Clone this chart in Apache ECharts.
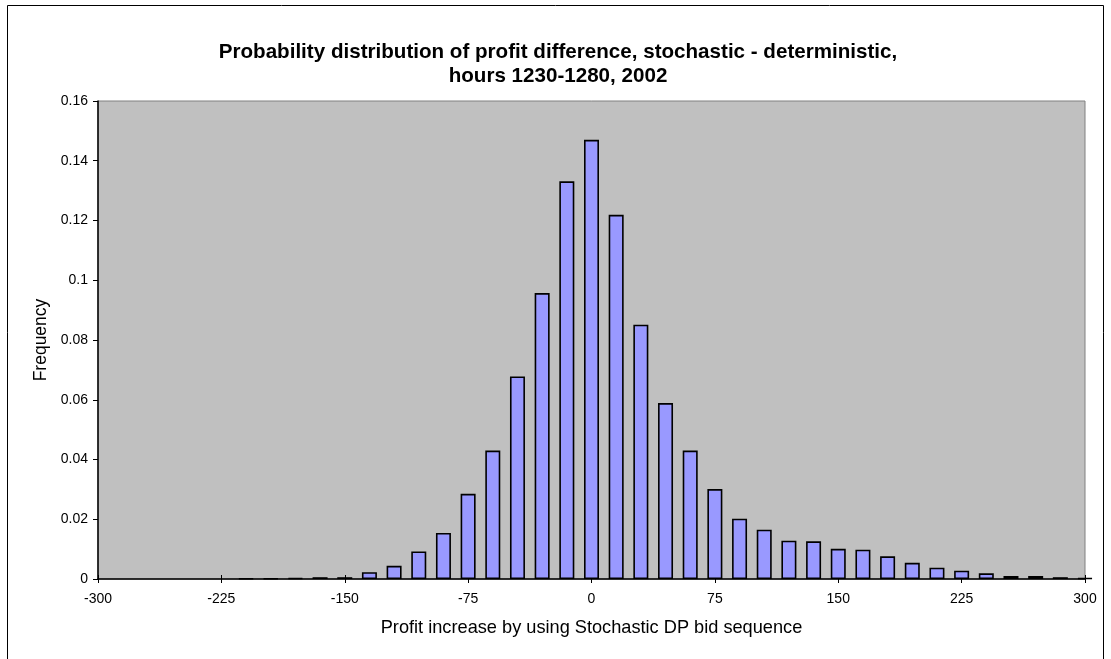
<!DOCTYPE html>
<html>
<head>
<meta charset="utf-8">
<title>Profit difference distribution</title>
<script src="https://cdn.jsdelivr.net/npm/echarts@6/dist/echarts.min.js"></script>
<style>
  html, body { margin: 0; padding: 0; background: #ffffff; }
  #chart { width: 1111px; height: 659px; }
</style>
</head>
<body>
<div id="chart"></div>
<script>
// Histogram bins (profit difference, bin centres) and their relative frequencies
const binCenters = [-210, -195, -180, -165, -150, -135, -120, -105, -90, -75, -60, -45, -30, -15,
  0, 15, 30, 45, 60, 75, 90, 105, 120, 135, 150, 165, 180, 195, 210, 225, 240, 255, 270, 285, 300];
const frequencies = [0.0002, 0.0002, 0.0003, 0.0006, 0.0006, 0.0023, 0.0044, 0.0092, 0.0154, 0.0285,
  0.0430, 0.0678, 0.0957, 0.1331, 0.1470, 0.1219, 0.0851, 0.0589, 0.0430, 0.0301, 0.0202, 0.0165,
  0.0128, 0.0126, 0.0101, 0.0098, 0.0076, 0.0054, 0.0038, 0.0028, 0.0019, 0.0010, 0.0010, 0.0006, 0.0003];

// Axis ranges
const xMin = -300, xMax = 300, xStep = 75;
const yMin = 0, yMax = 0.16, yStep = 0.02;

const titleLines = ['Probability distribution of profit difference, stochastic - deterministic,', 'hours 1230-1280, 2002'];
const xTitle = 'Profit increase by using Stochastic DP bid sequence';
const yTitle = 'Frequency';

const seriesData = binCenters.map((x, i) => [x, frequencies[i]]);

const chart = echarts.init(document.getElementById('chart'), null, { renderer: 'canvas' });

const font = 'Arial, "Liberation Sans", sans-serif';

const baseX = {
  type: 'value', min: xMin, max: xMax, interval: xStep, position: 'bottom'
};

chart.setOption({
  animation: false,
  backgroundColor: '#ffffff',
  title: {
    text: titleLines.join('\n'),
    left: 553, top: 35, textAlign: 'center',
    textStyle: { fontFamily: font, fontSize: 20.6, fontWeight: 'bold', color: '#000', lineHeight: 24 }
  },
  graphic: [{
    type: 'rect', silent: true, z: -1,
    shape: { x: 7.5, y: 5.5, width: 1096, height: 700 },
    style: { fill: 'none', stroke: '#000', lineWidth: 1 }
  }],
  grid: {
    left: 98, top: 101, right: 26, bottom: 80,
    show: true, backgroundColor: '#C0C0C0', borderColor: '#808080', borderWidth: 1
  },
  xAxis: [
    Object.assign({}, baseX, {
      name: xTitle, nameLocation: 'middle', nameGap: 40,
      nameTextStyle: { fontFamily: font, fontSize: 18.2, color: '#000' },
      axisLine: { show: true, onZero: false, lineStyle: { color: '#000', width: 1.5 } },
      axisTick: { show: true, inside: false, length: 4, lineStyle: { color: '#000' } },
      axisLabel: { fontFamily: font, fontSize: 14, color: '#000', margin: 13 },
      splitLine: { show: false }
    }),
    Object.assign({}, baseX, {
      axisLine: { show: false },
      axisTick: { show: true, inside: true, length: 4, lineStyle: { color: '#000' } },
      axisLabel: { show: false },
      splitLine: { show: false }
    })
  ],
  yAxis: {
    type: 'value', min: yMin, max: yMax, interval: yStep,
    name: yTitle, nameLocation: 'middle', nameGap: 47, nameRotate: 90,
    nameTextStyle: { fontFamily: font, fontSize: 17.5, color: '#000' },
    axisLine: { show: true, onZero: false, lineStyle: { color: '#000', width: 1.5 } },
    axisTick: { show: true, inside: false, length: 5, lineStyle: { color: '#000' } },
    axisLabel: { fontFamily: font, fontSize: 14, color: '#000', margin: 10 },
    splitLine: { show: false }
  },
  series: [{
    type: 'bar',
    xAxisIndex: 0,
    data: seriesData,
    barWidth: 15,
    clip: true,
    itemStyle: { color: '#9999FF', borderColor: '#000', borderWidth: 1.6 }
  }]
});
</script>
</body>
</html>
